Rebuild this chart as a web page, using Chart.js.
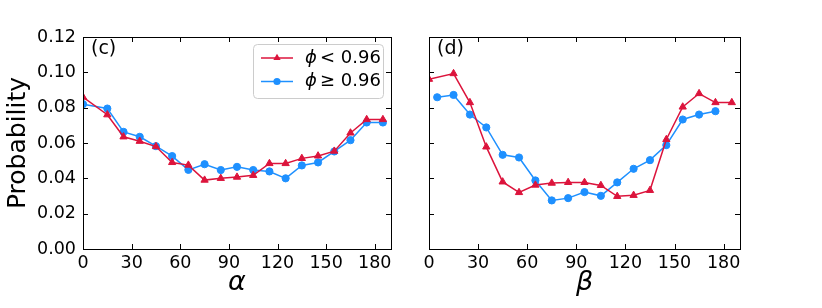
<!DOCTYPE html>
<html>
<head>
<meta charset="utf-8">
<script src="https://cdn.jsdelivr.net/npm/chart.js@4"></script>
<style>
  body { margin: 0; background: #fff; }
  #wrap { position: relative; width: 822px; height: 308px; }
  canvas { position: absolute; top: 0; }
</style>
</head>
<body>
<div id="wrap">
  <canvas id="alpha-chart" width="400" height="308" style="left:0"></canvas>
  <canvas id="beta-chart" width="422" height="308" style="left:400px"></canvas>
</div>
<script>
// data
const angleX = [0, 15, 25, 35, 45, 55, 65, 75, 85, 95, 105, 115, 125, 135, 145, 155, 165, 175, 185];
const alphaLow = [0.086, 0.076, 0.0635, 0.061, 0.058, 0.049, 0.0475, 0.039, 0.040, 0.0407, 0.0417,
  0.0484, 0.0484, 0.0513, 0.0527, 0.0554, 0.0657, 0.0733, 0.0733];
const alphaHigh = [0.082, 0.0795, 0.0663, 0.0635, 0.0582, 0.0526, 0.0448, 0.048, 0.0447, 0.0465, 0.0447,
  0.0439, 0.040, 0.0473, 0.049, 0.0552, 0.0616, 0.0716, 0.0716];
const betaLow = [0.0961, 0.0993, 0.0829, 0.0578, 0.038, 0.032, 0.0362, 0.0373, 0.0377, 0.0377, 0.036,
  0.0298, 0.0304, 0.0332, 0.062, 0.0804, 0.088, 0.0829, 0.0829];
const betaHighX = [5, 15, 25, 35, 45, 55, 65, 75, 85, 95, 105, 115, 125, 135, 145, 155, 165, 175];
const betaHigh = [0.0859, 0.0872, 0.0761, 0.0688, 0.0533, 0.0518, 0.0388, 0.0275, 0.0288, 0.0322, 0.0301,
  0.0377, 0.0454, 0.0503, 0.0588, 0.0733, 0.0761, 0.078];
const xTicks = [0, 30, 60, 90, 120, 150, 180];
const yTicks = [0, 0.02, 0.04, 0.06, 0.08, 0.10, 0.12];
const labelLow = 'ϕ < 0.96';
const labelHigh = 'ϕ ≥ 0.96';

const RED = '#dc143c';
const BLUE = '#1e90ff';
const FONT = "'DejaVu Sans', sans-serif";
const TRI_R = 4.2;
const DOT_R = 3.6;

const pairs = (xs, ys) => xs.map((x, i) => ({ x: x, y: ys[i] }));

function lowSet(ys) {
  return {
    label: labelLow, data: pairs(angleX, ys),
    borderColor: RED, backgroundColor: RED, borderWidth: 1.5,
    pointStyle: 'triangle', pointRadius: TRI_R, pointBorderWidth: 1,
    pointHoverRadius: TRI_R, clip: 0
  };
}
function highSet(xs, ys) {
  return {
    label: labelHigh, data: pairs(xs, ys),
    borderColor: BLUE, backgroundColor: BLUE, borderWidth: 1.5,
    pointStyle: 'circle', pointRadius: DOT_R, pointBorderWidth: 1,
    pointHoverRadius: DOT_R, clip: 0
  };
}

// frame + inward ticks on all four sides, like the matplotlib original
const frame = {
  id: 'frame',
  afterDraw(chart, args, opts) {
    const ctx = chart.ctx, a = chart.chartArea;
    const sx = chart.scales.x, sy = chart.scales.y;
    ctx.save();
    ctx.strokeStyle = '#000';
    ctx.lineWidth = 1;
    ctx.beginPath();
    xTicks.forEach(v => {
      const px = Math.round(sx.getPixelForValue(v)) + 0.5;
      ctx.moveTo(px, a.bottom); ctx.lineTo(px, a.bottom - 5);
      ctx.moveTo(px, a.top); ctx.lineTo(px, a.top + 5);
    });
    yTicks.forEach(v => {
      const py = Math.round(sy.getPixelForValue(v)) + 0.5;
      ctx.moveTo(a.left, py); ctx.lineTo(a.left + 5, py);
      ctx.moveTo(a.right, py); ctx.lineTo(a.right - 5, py);
    });
    ctx.stroke();
    ctx.strokeRect(Math.round(a.left) + 0.5, Math.round(a.top) + 0.5,
      Math.round(a.right - a.left), Math.round(a.bottom - a.top));
    // panel tag
    ctx.fillStyle = '#000';
    ctx.font = '19px ' + FONT;
    ctx.textBaseline = 'middle';
    ctx.fillText(opts.tag, a.left + 8, a.top + 12);
    ctx.restore();
  }
};

function drawMarker(ctx, style, x, y, color) {
  ctx.fillStyle = color;
  ctx.beginPath();
  if (style === 'triangle') {
    ctx.moveTo(x, y - TRI_R);
    ctx.lineTo(x + TRI_R * 0.87, y + TRI_R * 0.5);
    ctx.lineTo(x - TRI_R * 0.87, y + TRI_R * 0.5);
    ctx.closePath();
  } else {
    ctx.arc(x, y, DOT_R, 0, Math.PI * 2);
  }
  ctx.fill();
}

// legend box drawn like matplotlib's
const phiLegend = {
  id: 'phiLegend',
  afterDraw(chart) {
    const ctx = chart.ctx;
    const bx = 253, by = 44, bw = 130, bh = 54, r = 4;
    ctx.save();
    ctx.fillStyle = 'rgba(255,255,255,0.85)';
    ctx.strokeStyle = '#cccccc';
    ctx.lineWidth = 1;
    ctx.beginPath();
    ctx.roundRect(bx + 0.5, by + 0.5, bw, bh, r);
    ctx.fill();
    ctx.stroke();
    const rows = [
      { y: 58, color: RED, style: 'triangle', text: labelLow },
      { y: 81.5, color: BLUE, style: 'circle', text: labelHigh }
    ];
    rows.forEach(row => {
      ctx.strokeStyle = row.color;
      ctx.lineWidth = 1.5;
      ctx.beginPath();
      ctx.moveTo(261, row.y); ctx.lineTo(293, row.y);
      ctx.stroke();
      drawMarker(ctx, row.style, 277, row.y, row.color);
      ctx.fillStyle = '#000';
      ctx.textBaseline = 'middle';
      ctx.font = 'italic 18px ' + FONT;
      ctx.fillText(row.text.charAt(0), 305, row.y);
      ctx.font = '18px ' + FONT;
      ctx.fillText(row.text.slice(2), 320, row.y);
    });
    ctx.restore();
  }
};

function xScale(title) {
  return {
    type: 'linear', min: 0, max: 190,
    afterBuildTicks: s => { s.ticks = xTicks.map(v => ({ value: v })); },
    afterFit: s => { s.height = 59; },
    grid: { display: false, drawTicks: false },
    border: { display: false },
    ticks: { color: '#000', font: { family: FONT, size: 17.5 }, padding: 4, maxRotation: 0 },
    title: { display: true, text: title, color: '#000',
      font: { family: FONT, size: 27, style: 'italic' }, padding: { top: 0, bottom: 9 } }
  };
}

function yScale(showLabels, width) {
  return {
    type: 'linear', min: 0, max: 0.12,
    afterBuildTicks: s => { s.ticks = yTicks.map(v => ({ value: v })); },
    afterFit: s => { s.width = width; },
    grid: { display: false, drawTicks: false },
    border: { display: false },
    ticks: { display: showLabels, color: '#000', font: { family: FONT, size: 17.5 }, padding: 7,
      callback: v => v.toFixed(2) },
    title: { display: showLabels, text: 'Probability', color: '#000',
      font: { family: FONT, size: 25 }, padding: { top: 3, bottom: 0 } }
  };
}

const common = {
  responsive: false,
  animation: false,
  plugins: { legend: { display: false }, tooltip: { enabled: false } }
};

const alphaChart = new Chart(document.getElementById('alpha-chart'), {
  type: 'line',
  data: { datasets: [lowSet(alphaLow), highSet(angleX, alphaHigh)] },
  options: {
    ...common,
    layout: { padding: { left: 0, right: 9, top: 37, bottom: 0 } },
    plugins: { ...common.plugins, frame: { tag: '(c)' } },
    scales: { x: xScale('α'), y: yScale(true, 83) }
  },
  plugins: [frame, phiLegend]
});

const betaChart = new Chart(document.getElementById('beta-chart'), {
  type: 'line',
  data: { datasets: [lowSet(betaLow), highSet(betaHighX, betaHigh)] },
  options: {
    ...common,
    layout: { padding: { left: 0, right: 82, top: 37, bottom: 0 } },
    plugins: { ...common.plugins, frame: { tag: '(d)' } },
    scales: { x: xScale('β'), y: yScale(false, 29) }
  },
  plugins: [frame]
});
</script>
</body>
</html>
